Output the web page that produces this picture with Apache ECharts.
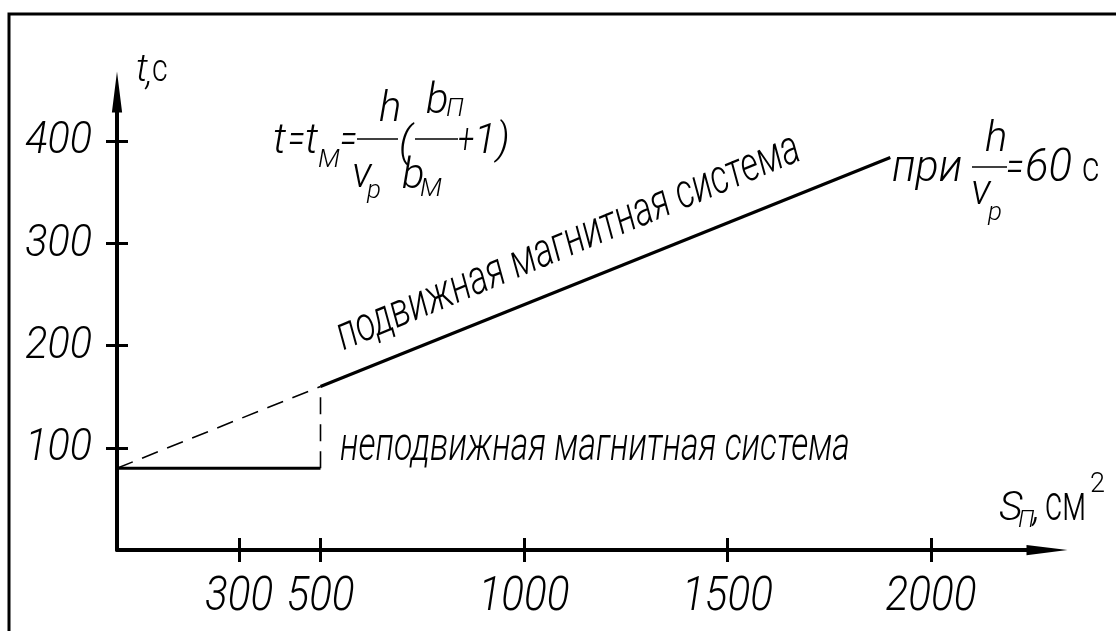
<!DOCTYPE html>
<html>
<head>
<meta charset="utf-8">
<script src="https://cdn.jsdelivr.net/npm/echarts@6/dist/echarts.min.js"></script>
<style>
  html, body { margin: 0; padding: 0; background: #fff; }
  #chart { width: 1116px; height: 631px; }
</style>
</head>
<body>
<div id="chart"></div>
<script>
// Area S_П, cm², at the break points of the curves
const areaPoints = [0, 500, 1900];
// Stationary magnet system: the time stays constant up to 500 cm²
const timeStationary = [80, 80];
// Moving magnet system: time grows linearly with the area
const timeMoving = [80, 160, 384];
// Tick values on both axes
const xTickValues = [300, 500, 1000, 1500, 2000];
const yTickValues = [100, 200, 300, 400];

// Thin, slanted lettering in the manner of drafting fonts
const FONT = "Roboto, 'DejaVu Sans', sans-serif";
const WEIGHT = 300;
const INK = '#000';

const stationaryData = timeStationary.map((t, i) => [areaPoints[i], t]);
const movingDashed = [[areaPoints[0], timeMoving[0]], [areaPoints[1], timeMoving[1]]];
const movingSolid = [[areaPoints[1], timeMoving[1]], [areaPoints[2], timeMoving[2]]];
const dropDashed = [[areaPoints[1], timeStationary[1]], [areaPoints[1], timeMoving[1]]];

const X_MAX = 2285, Y_MAX = 448;
const arrow = 'path://M5,0 L10,40 L0,40 Z';

const chart = echarts.init(document.getElementById('chart'), null, { renderer: 'canvas' });

function baseX(extra) {
  return Object.assign({
    type: 'value', min: 0, max: X_MAX, position: 'bottom',
    splitLine: { show: false }, axisLabel: { show: false }
  }, extra);
}
function baseY(extra) {
  return Object.assign({
    type: 'value', min: 0, max: Y_MAX, interval: 100, position: 'left',
    splitLine: { show: false }, axisLabel: { show: false }
  }, extra);
}

const lineSeries = (name, data, width, dashed) => ({
  name, type: 'line', data, symbol: 'none', silent: true,
  xAxisIndex: 0, yAxisIndex: 0,
  lineStyle: { color: INK, width, type: dashed ? [17, 10] : 'solid', cap: 'butt' },
  z: 3
});

chart.setOption({
  animation: false,
  backgroundColor: '#fff',
  grid: { left: 117, top: 92, right: 69, bottom: 81, containLabel: false },
  xAxis: [
    baseX({
      axisLine: { show: true, symbol: ['none', arrow], symbolSize: [12, 41], lineStyle: { color: INK, width: 4 } },
      axisTick: { show: true, inside: false, length: 12, lineStyle: { color: INK, width: 3 }, customValues: xTickValues }
    }),
    baseX({
      axisLine: { show: false },
      axisTick: { show: true, inside: true, length: 12, lineStyle: { color: INK, width: 3 }, customValues: xTickValues }
    })
  ],
  yAxis: [
    baseY({
      axisLine: { show: true, symbol: ['none', arrow], symbolSize: [12, 41], lineStyle: { color: INK, width: 4 } },
      axisTick: { show: true, inside: false, length: 11, lineStyle: { color: INK, width: 3 }, customValues: yTickValues }
    }),
    baseY({
      axisLine: { show: false },
      axisTick: { show: true, inside: true, length: 11, lineStyle: { color: INK, width: 3 }, customValues: yTickValues }
    })
  ],
  series: [
    lineSeries('неподвижная', stationaryData, 3, false),
    lineSeries('подвижная (экстраполяция)', movingDashed, 1.6, true),
    lineSeries('граница', dropDashed, 1.6, true),
    lineSeries('подвижная', movingSolid, 3.2, false)
  ]
});

// width of a string in the lettering font, used to fit long captions
const measureCtx = document.createElement('canvas').getContext('2d');
function measure(str, fs, italic = true) {
  measureCtx.font = `${italic ? 'italic' : 'normal'} ${WEIGHT} ${fs}px ${FONT}`;
  return measureCtx.measureText(str).width;
}

// Text helper: baseline is the glyph baseline; opts may set align, scale, rotation
function txt(str, x, baseline, fs, opts = {}) {
  const italic = opts.italic !== false;
  return {
    type: 'text', x, y: baseline + fs * 0.21, z: 10, silent: true,
    scaleX: opts.sx || 1, rotation: opts.rotation || 0,
    style: {
      text: str, fontSize: fs, fontFamily: FONT, fontWeight: WEIGHT,
      fontStyle: italic ? 'italic' : 'normal', fill: INK,
      align: opts.align || 'left', verticalAlign: 'bottom'
    }
  };
}
function hline(x1, x2, y, w) {
  return { type: 'line', z: 10, silent: true, shape: { x1, y1: y, x2, y2: y }, style: { stroke: INK, lineWidth: w } };
}

const graphics = [
  // drawing frame
  { type: 'polyline', z: 10, silent: true, shape: { points: [[9, 631], [9, 14], [1116, 14]] }, style: { stroke: INK, lineWidth: 3, fill: null } }
];

// tick labels placed through the axis scales
xTickValues.forEach(v => {
  const px = chart.convertToPixel({ xAxisIndex: 0 }, v);
  graphics.push(txt(String(v), px, 612, 48, { align: 'center', sx: 0.88 }));
});
yTickValues.forEach(v => {
  const py = chart.convertToPixel({ yAxisIndex: 0 }, v);
  graphics.push(txt(String(v), 92, py + 14, 45, { align: 'right', sx: 0.92 }));
});

// Caption lying along the moving-system line
const p0 = chart.convertToPixel({ gridIndex: 0 }, movingSolid[0]);
const p1 = chart.convertToPixel({ gridIndex: 0 }, movingSolid[1]);
const ang = Math.atan2(p0[1] - p1[1], p1[0] - p0[0]) + 0.012;
const startArea = 580;
const startT = timeMoving[1] + (startArea - areaPoints[1]) * (timeMoving[2] - timeMoving[1]) / (areaPoints[2] - areaPoints[1]);
const ps = chart.convertToPixel({ gridIndex: 0 }, [startArea, startT]);
const off = 13;
const lx = ps[0] - Math.sin(ang) * off;
const ly = ps[1] - Math.cos(ang) * off;
const movingCaption = 'подвижная магнитная система';
const stationaryCaption = 'неподвижная магнитная система';

graphics.push(
  // axis captions
  txt('t', 136, 83, 38),
  txt(',', 146, 85, 36),
  txt('с', 152, 83, 38, { italic: false, sx: 0.8 }),
  txt('S', 999, 522, 41),
  txt('П', 1018, 528, 24),
  txt(',', 1033, 523, 40),
  txt('см', 1045, 522, 50, { italic: false, sx: 0.66 }),
  txt('2', 1090, 493, 27, { italic: false }),

  // formula t = t_M = h/v_p (b_П/b_М + 1)
  txt('t', 273, 155, 42),
  txt('=', 288, 155, 42, { sx: 0.75 }),
  txt('t', 305, 155, 42),
  txt('М', 318, 168, 26),
  txt('=', 340, 155, 42, { sx: 0.75 }),
  hline(357, 398, 139, 1.5),
  txt('h', 379, 123, 42),
  txt('v', 352, 189, 42),
  txt('р', 367, 199, 26),
  txt('(', 399, 158, 42),
  txt('b', 426, 115, 42),
  txt('П', 446, 117, 26),
  hline(415, 458, 139, 1.5),
  txt('b', 402, 190, 42),
  txt('М', 420, 197, 26),
  txt('+', 458, 155, 42, { sx: 0.7 }),
  txt('1)', 474, 155, 42),

  // condition at the line end
  txt('при', 892, 183, 44, { sx: 0.98 }),
  txt('h', 985, 153, 42),
  hline(972, 1007, 167, 1.5),
  txt('v', 971, 206, 42),
  txt('р', 988, 221, 26),
  txt('=', 1006, 183, 44, { sx: 0.75 }),
  txt('60', 1025, 183, 46, { sx: 0.95 }),
  txt('с', 1082, 183, 42, { italic: false, sx: 0.8 }),

  // curve captions
  txt(stationaryCaption, 340, 462, 48, { sx: 510 / measure(stationaryCaption, 48) }),
  txt(movingCaption, lx, ly - 48 * 0.21, 48, { rotation: ang, sx: 498 / measure(movingCaption, 48) })
);

chart.setOption({ graphic: { elements: graphics } });
</script>
</body>
</html>
